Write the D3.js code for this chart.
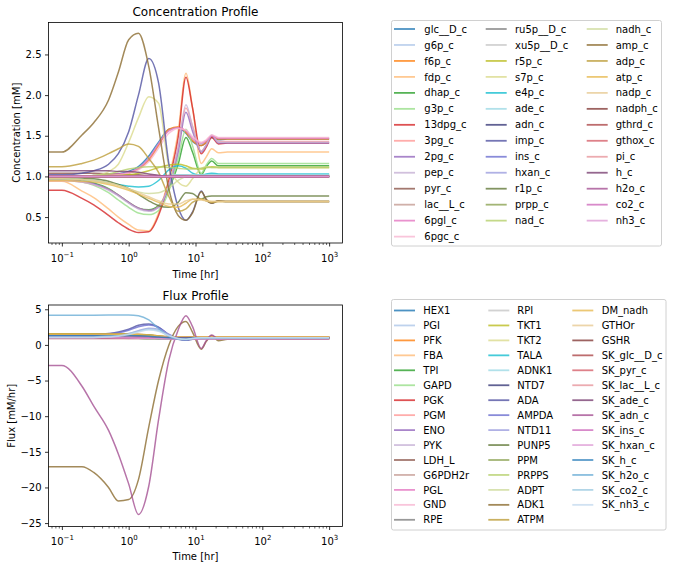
<!DOCTYPE html>
<html>
<head>
<meta charset="utf-8">
<script src="https://cdn.jsdelivr.net/npm/d3@7"></script>
<style>
  body { margin: 0; background: #fff; }
  text { font-family: "DejaVu Sans", sans-serif; }
</style>
</head>
<body>
<svg id="chart" width="673" height="568"></svg>
<script>
// shared time grid [hr]; t = 0 is clipped to the left edge like matplotlib does on a log axis
var T = [0, 0.1, 0.2, 0.3, 0.5, 0.7, 1, 1.4, 2, 2.8, 4, 5.5, 7.2, 9, 12.2, 14.5, 17.5, 22, 30, 1000];

var xTicks = [0.1, 1, 10, 100, 1000];
var concTicks = [0.5, 1.0, 1.5, 2.0, 2.5];
var fluxTicks = [-25, -20, -15, -10, -5, 0, 5];

var tab20 = ["#1f77b4","#aec7e8","#ff7f0e","#ffbb78","#2ca02c","#98df8a","#d62728","#ff9896","#9467bd","#c5b0d5",
             "#8c564b","#c49c94","#e377c2","#f7b6d2","#7f7f7f","#c7c7c7","#bcbd22","#dbdb8d","#17becf","#9edae5"];
var tab20b = ["#393b79","#5254a3","#6b6ecf","#9c9ede","#637939","#8ca252","#b5cf6b","#cedb9c","#8c6d31","#bd9e39",
              "#e7ba52","#e7cb94","#843c39","#ad494a","#d6616b","#e7969c","#7b4173","#a55194","#ce6dbd","#de9ed6"];
var tab20c = ["#3182bd","#6baed6","#9ecae1","#c6dbef"];

var concNames = ["glc__D_c","g6p_c","f6p_c","fdp_c","dhap_c","g3p_c","13dpg_c","3pg_c","2pg_c","pep_c",
  "pyr_c","lac__L_c","6pgl_c","6pgc_c","ru5p__D_c","xu5p__D_c","r5p_c","s7p_c","e4p_c","ade_c",
  "adn_c","imp_c","ins_c","hxan_c","r1p_c","prpp_c","nad_c","nadh_c","amp_c","adp_c",
  "atp_c","nadp_c","nadph_c","gthrd_c","gthox_c","pi_c","h_c","h2o_c","co2_c","nh3_c"];

var concValues = [
  [1.00,1.00,1.00,1.01,1.02,1.03,1.06,1.12,1.25,1.42,1.58,1.60,1.53,1.43,1.38,1.42,1.48,1.45,1.46,1.46],
  [1.00,1.00,1.00,1.00,1.01,1.02,1.05,1.10,1.22,1.40,1.57,1.60,1.55,1.45,1.40,1.43,1.49,1.47,1.47,1.47],
  [0.99,0.99,0.99,1.00,1.01,1.02,1.04,1.09,1.20,1.38,1.58,1.61,1.54,1.44,1.38,1.42,1.49,1.46,1.46,1.46],
  [0.94,0.94,0.82,0.74,0.60,0.50,0.41,0.34,0.33,0.55,0.98,1.55,2.27,1.85,1.16,1.24,1.34,1.29,1.30,1.30],
  [0.97,0.97,0.95,0.92,0.85,0.77,0.68,0.61,0.59,0.64,0.85,1.15,1.48,1.30,1.02,1.12,1.19,1.13,1.13,1.13],
  [0.96,0.96,0.93,0.89,0.80,0.71,0.62,0.55,0.53,0.58,0.82,1.22,1.58,1.38,1.04,1.14,1.22,1.16,1.16,1.16],
  [0.83,0.83,0.73,0.65,0.52,0.43,0.35,0.31,0.32,0.52,0.95,1.48,2.22,1.85,1.28,1.36,1.48,1.40,1.41,1.41],
  [0.95,0.95,0.93,0.90,0.84,0.77,0.68,0.61,0.58,0.63,0.90,1.35,1.84,1.62,1.31,1.39,1.50,1.43,1.43,1.43],
  [0.96,0.96,0.94,0.91,0.84,0.77,0.68,0.61,0.58,0.62,0.88,1.30,1.79,1.56,1.30,1.38,1.50,1.41,1.41,1.41],
  [0.95,0.95,0.93,0.90,0.83,0.76,0.67,0.60,0.57,0.62,0.90,1.36,1.88,1.62,1.31,1.39,1.51,1.42,1.42,1.42],
  [1.04,1.04,1.04,1.04,1.03,1.03,1.02,1.02,1.01,1.01,1.00,1.00,1.00,1.00,1.00,1.00,1.00,1.00,1.00,1.00],
  [0.99,0.99,0.99,0.99,0.99,0.99,0.99,0.99,1.00,1.00,1.00,1.00,1.00,1.00,1.00,1.00,1.00,1.00,1.00,1.00],
  [1.00,1.00,1.00,1.01,1.02,1.03,1.05,1.10,1.22,1.40,1.56,1.60,1.56,1.47,1.41,1.44,1.50,1.47,1.47,1.47],
  [1.00,1.00,1.00,1.00,1.01,1.02,1.04,1.08,1.18,1.35,1.53,1.59,1.57,1.49,1.42,1.45,1.51,1.48,1.48,1.48],
  [0.99,0.99,0.99,0.99,0.99,0.99,0.99,0.99,0.99,1.00,1.01,1.02,1.02,1.01,1.01,1.01,1.01,1.01,1.01,1.01],
  [0.99,0.99,0.99,0.99,0.99,0.99,0.99,0.99,0.99,1.00,1.01,1.02,1.02,1.01,1.01,1.01,1.01,1.01,1.01,1.01],
  [1.00,1.00,1.00,1.00,1.01,1.01,1.02,1.04,1.07,1.11,1.14,1.15,1.13,1.10,1.09,1.11,1.12,1.11,1.11,1.11],
  [1.00,1.00,1.00,1.01,1.06,1.15,1.42,1.72,1.98,1.90,1.12,0.93,0.88,0.97,1.10,1.12,1.11,1.11,1.11,1.11],
  [0.97,0.97,0.96,0.95,0.92,0.90,0.88,0.87,0.88,0.95,1.08,1.13,1.10,1.04,1.01,1.03,1.04,1.03,1.03,1.03],
  [0.99,0.99,0.99,0.99,0.99,0.99,0.99,0.99,1.00,1.00,1.01,1.02,1.02,1.02,1.02,1.02,1.02,1.02,1.02,1.02],
  [1.00,1.00,1.00,1.00,1.00,1.00,1.00,1.00,1.00,1.00,1.00,1.00,1.00,1.00,1.00,1.00,1.00,1.00,1.00,1.00],
  [1.02,1.02,1.04,1.07,1.15,1.28,1.55,2.00,2.45,2.15,1.15,0.62,0.46,0.56,0.82,0.71,0.67,0.70,0.69,0.69],
  [1.00,1.00,1.00,1.00,1.00,1.00,1.00,1.00,1.00,1.00,1.00,1.00,1.00,1.00,1.00,1.00,1.00,1.00,1.00,1.00],
  [1.00,1.00,1.00,1.00,1.00,1.00,1.00,1.00,1.00,1.00,1.00,1.00,1.00,1.00,1.00,1.00,1.00,1.00,1.00,1.00],
  [0.99,0.99,0.98,0.97,0.94,0.90,0.85,0.78,0.70,0.64,0.62,0.68,0.80,0.79,0.72,0.75,0.76,0.76,0.76,0.76],
  [0.99,0.99,0.99,0.99,0.99,0.99,0.99,0.99,0.99,0.99,1.00,1.00,1.00,1.00,1.00,1.00,1.00,1.00,1.00,1.00],
  [1.00,1.00,1.00,1.01,1.03,1.06,1.09,1.11,1.12,1.12,1.11,1.10,1.09,1.09,1.10,1.11,1.11,1.11,1.11,1.11],
  [0.97,0.97,0.96,0.95,0.92,0.89,0.85,0.81,0.79,0.80,0.86,0.95,1.00,1.01,1.00,1.00,1.00,1.00,1.00,1.00],
  [1.30,1.30,1.51,1.66,1.94,2.28,2.68,2.76,2.35,1.60,0.84,0.52,0.46,0.55,0.81,0.72,0.67,0.70,0.69,0.69],
  [1.12,1.12,1.16,1.20,1.28,1.34,1.40,1.37,1.22,1.05,0.75,0.57,0.60,0.68,0.72,0.70,0.68,0.69,0.69,0.69],
  [0.95,0.95,0.94,0.93,0.90,0.87,0.83,0.78,0.73,0.68,0.63,0.62,0.67,0.72,0.72,0.70,0.69,0.69,0.69,0.69],
  [0.97,0.97,0.96,0.95,0.92,0.89,0.85,0.80,0.75,0.70,0.66,0.66,0.70,0.72,0.71,0.70,0.69,0.69,0.69,0.69],
  [1.00,1.00,1.00,1.00,1.00,1.00,1.00,1.00,1.00,1.00,1.00,1.00,1.00,1.00,1.00,1.00,1.00,1.00,1.00,1.00],
  [1.00,1.00,1.00,1.00,1.00,1.00,1.00,1.00,1.00,1.00,1.00,1.00,1.00,1.00,1.00,1.00,1.00,1.00,1.00,1.00],
  [1.00,1.00,1.00,1.00,1.00,1.00,1.00,1.00,1.00,1.00,1.00,1.00,1.00,1.00,1.00,1.00,1.00,1.00,1.00,1.00],
  [1.00,1.00,1.00,1.00,1.00,1.00,1.00,1.00,1.00,1.00,1.00,1.00,1.00,1.00,1.00,1.00,1.00,1.00,1.00,1.00],
  [1.07,1.07,1.07,1.07,1.07,1.06,1.06,1.05,1.03,1.01,1.00,1.00,1.00,1.00,1.00,1.00,1.00,1.00,1.00,1.00],
  [1.00,1.00,1.00,1.00,1.00,1.00,1.00,1.00,1.00,1.00,1.00,1.00,1.00,1.00,1.00,1.00,1.00,1.00,1.00,1.00],
  [1.00,1.00,1.00,1.00,1.00,1.00,1.00,1.00,1.00,1.00,1.00,1.00,1.00,1.00,1.00,1.00,1.00,1.00,1.00,1.00],
  [1.00,1.00,1.00,1.00,1.00,1.00,1.00,1.00,1.00,1.00,1.00,1.00,1.00,1.00,1.00,1.00,1.00,1.00,1.00,1.00]
];

var fluxNames = ["HEX1","PGI","PFK","FBA","TPI","GAPD","PGK","PGM","ENO","PYK",
  "LDH_L","G6PDH2r","PGL","GND","RPE","RPI","TKT1","TKT2","TALA","ADNK1",
  "NTD7","ADA","AMPDA","NTD11","PUNP5","PPM","PRPPS","ADPT","ADK1","ATPM",
  "DM_nadh","GTHOr","GSHR","SK_glc__D_c","SK_pyr_c","SK_lac__L_c","SK_ade_c","SK_adn_c","SK_ins_c","SK_hxan_c",
  "SK_h_c","SK_h2o_c","SK_co2_c","SK_nh3_c"];

var fluxValues = [
  [1.45,1.45,1.45,1.45,1.45,1.44,1.42,1.38,1.30,1.18,1.05,1.00,1.00,1.02,1.05,1.04,1.03,1.03,1.03,1.03],
  [1.40,1.40,1.40,1.40,1.40,1.39,1.37,1.33,1.25,1.13,1.02,0.98,0.98,1.00,1.03,1.02,1.02,1.02,1.02,1.02],
  [1.55,1.55,1.55,1.55,1.55,1.54,1.52,1.47,1.38,1.25,1.10,1.05,1.05,1.07,1.10,1.09,1.09,1.09,1.09,1.09],
  [1.55,1.55,1.55,1.55,1.54,1.53,1.51,1.46,1.37,1.24,1.10,1.05,1.05,1.07,1.10,1.09,1.09,1.09,1.09,1.09],
  [1.50,1.50,1.50,1.50,1.50,1.49,1.47,1.43,1.34,1.22,1.08,1.03,1.03,1.05,1.08,1.07,1.07,1.07,1.07,1.07],
  [1.35,1.35,1.35,1.35,1.35,1.34,1.33,1.30,1.24,1.15,1.06,1.02,1.03,1.06,1.10,1.09,1.09,1.09,1.09,1.09],
  [1.35,1.35,1.35,1.35,1.35,1.34,1.33,1.30,1.24,1.15,1.06,1.02,1.03,1.06,1.10,1.09,1.09,1.09,1.09,1.09],
  [1.30,1.30,1.30,1.30,1.30,1.29,1.28,1.26,1.21,1.13,1.05,1.02,1.03,1.06,1.10,1.09,1.09,1.09,1.09,1.09],
  [1.30,1.30,1.30,1.30,1.30,1.29,1.28,1.26,1.21,1.13,1.05,1.02,1.03,1.06,1.10,1.09,1.09,1.09,1.09,1.09],
  [1.28,1.28,1.28,1.28,1.28,1.27,1.26,1.24,1.19,1.12,1.05,1.02,1.03,1.06,1.10,1.09,1.09,1.09,1.09,1.09],
  [1.25,1.25,1.25,1.25,1.25,1.24,1.23,1.21,1.17,1.11,1.05,1.02,1.02,1.04,1.06,1.06,1.06,1.06,1.06,1.06],
  [1.00,1.00,1.00,1.00,1.00,0.99,0.98,0.97,0.95,0.93,0.92,0.92,0.93,0.94,0.95,0.95,0.95,0.95,0.95,0.95],
  [1.00,1.00,1.00,1.00,1.00,0.99,0.98,0.97,0.95,0.93,0.92,0.92,0.93,0.94,0.95,0.95,0.95,0.95,0.95,0.95],
  [1.00,1.00,1.00,1.00,1.00,0.99,0.98,0.97,0.95,0.93,0.92,0.92,0.93,0.94,0.95,0.95,0.95,0.95,0.95,0.95],
  [0.95,0.95,0.95,0.95,0.95,0.94,0.93,0.92,0.90,0.88,0.87,0.87,0.87,0.88,0.88,0.88,0.88,0.88,0.88,0.88],
  [0.90,0.90,0.90,0.90,0.90,0.89,0.88,0.87,0.86,0.85,0.84,0.84,0.84,0.85,0.85,0.85,0.85,0.85,0.85,0.85],
  [0.95,0.95,0.95,0.95,0.95,0.94,0.93,0.92,0.90,0.88,0.87,0.87,0.87,0.88,0.88,0.88,0.88,0.88,0.88,0.88],
  [0.95,0.95,0.95,0.95,0.95,0.94,0.93,0.92,0.90,0.88,0.87,0.87,0.87,0.88,0.88,0.88,0.88,0.88,0.88,0.88],
  [0.95,0.95,0.95,0.95,0.95,0.94,0.93,0.92,0.90,0.88,0.87,0.87,0.87,0.88,0.88,0.88,0.88,0.88,0.88,0.88],
  [1.00,1.00,1.00,1.00,1.00,1.00,1.00,1.00,1.00,1.00,1.00,1.00,1.00,1.00,1.00,1.00,1.00,1.00,1.00,1.00],
  [1.05,1.05,1.06,1.07,1.10,1.13,1.18,1.22,1.24,1.18,1.05,0.95,0.92,0.95,1.00,1.00,1.00,1.00,1.00,1.00],
  [1.35,1.35,1.40,1.45,1.60,1.80,2.20,2.75,2.95,2.50,1.40,0.80,0.65,0.80,1.00,1.02,1.00,1.00,1.00,1.00],
  [1.30,1.30,1.35,1.40,1.55,1.70,2.05,2.55,2.80,2.45,1.45,0.85,0.70,0.85,1.00,1.00,1.00,1.00,1.00,1.00],
  [1.10,1.10,1.12,1.15,1.22,1.35,1.60,2.00,2.35,2.20,1.50,0.90,0.75,0.85,1.00,1.00,1.00,1.00,1.00,1.00],
  [1.00,1.00,1.00,1.00,1.00,1.00,1.00,1.00,1.00,1.00,0.99,0.98,0.98,0.99,1.00,1.00,1.00,1.00,1.00,1.00],
  [1.00,1.00,1.00,1.00,1.00,1.00,1.00,0.99,0.99,0.98,0.97,0.96,0.96,0.96,0.96,0.96,0.96,0.96,0.96,0.96],
  [0.98,0.98,0.98,0.98,0.98,0.98,0.98,0.97,0.97,0.96,0.95,0.95,0.95,0.95,0.95,0.95,0.95,0.95,0.95,0.95],
  [0.98,0.98,0.98,0.98,0.98,0.98,0.98,0.98,0.98,0.98,0.98,0.98,0.98,0.98,0.98,0.98,0.98,0.98,0.98,0.98],
  [-17.1,-17.1,-17.1,-17.9,-20.0,-21.9,-21.7,-18.9,-11.5,-5.0,0.0,2.6,3.3,1.8,-0.6,0.5,1.3,0.6,0.8,0.8],
  [1.55,1.55,1.55,1.55,1.55,1.54,1.52,1.48,1.40,1.28,1.15,1.10,1.10,1.12,1.15,1.15,1.15,1.15,1.15,1.15],
  [1.50,1.50,1.50,1.50,1.50,1.49,1.47,1.43,1.36,1.25,1.14,1.10,1.10,1.12,1.15,1.15,1.15,1.15,1.15,1.15],
  [1.00,1.00,1.00,1.00,1.00,1.00,0.99,0.99,0.98,0.97,0.96,0.95,0.95,0.95,0.95,0.95,0.95,0.95,0.95,0.95],
  [1.00,1.00,1.00,1.00,1.00,1.00,0.99,0.99,0.98,0.97,0.96,0.95,0.95,0.95,0.95,0.95,0.95,0.95,0.95,0.95],
  [1.00,1.00,1.00,1.00,1.00,1.00,1.00,1.00,1.00,1.00,1.00,1.00,1.00,1.00,1.00,1.00,1.00,1.00,1.00,1.00],
  [0.90,0.90,0.90,0.90,0.90,0.90,0.90,0.90,0.91,0.91,0.92,0.92,0.92,0.92,0.92,0.92,0.92,0.92,0.92,0.92],
  [1.15,1.15,1.15,1.15,1.15,1.14,1.13,1.12,1.10,1.08,1.06,1.05,1.05,1.05,1.05,1.05,1.05,1.05,1.05,1.05],
  [1.00,1.00,1.00,1.00,1.00,1.00,1.00,1.00,1.00,1.00,1.00,1.00,1.00,1.00,1.00,1.00,1.00,1.00,1.00,1.00],
  [-2.9,-2.9,-5.8,-8.6,-12.0,-15.3,-19.5,-23.8,-19.8,-10.5,-2.1,2.1,4.1,2.6,-0.5,0.6,1.4,0.8,1.0,1.0],
  [1.10,1.10,1.10,1.09,1.08,1.07,1.05,1.02,0.98,0.92,0.85,0.80,0.78,0.80,0.82,0.82,0.82,0.82,0.82,0.82],
  [1.00,1.00,1.00,1.00,0.99,0.98,0.97,0.95,0.92,0.89,0.86,0.85,0.85,0.85,0.85,0.85,0.85,0.85,0.85,0.85],
  [1.30,1.30,1.30,1.30,1.30,1.30,1.29,1.27,1.20,1.10,1.00,0.95,0.95,0.98,1.00,1.00,1.00,1.00,1.00,1.00],
  [4.15,4.15,4.15,4.16,4.18,4.20,4.20,4.10,3.50,2.30,1.20,0.80,0.75,0.90,1.00,1.02,1.00,1.00,1.00,1.00],
  [1.10,1.10,1.10,1.12,1.20,1.30,1.55,1.90,2.20,2.00,1.30,0.85,0.75,0.90,1.00,1.00,1.00,1.00,1.00,1.00],
  [1.00,1.00,1.00,1.02,1.10,1.20,1.45,1.80,2.10,1.90,1.30,0.90,0.80,0.90,1.00,1.00,1.00,1.00,1.00,1.00]
];

var concColors = tab20.concat(tab20b);
var fluxColors = tab20.concat(tab20b, tab20c);

var svg = d3.select("#chart");
var left = 48.5, right = 342.5;

var panels = [
  { id: "conc", title: "Concentration Profile", ylabel: "Concentration [mM]",
    names: concNames, values: concValues, colors: concColors,
    yDomain: [0.181, 2.893], yTicks: concTicks, yFmt: d3.format(".1f"),
    top: 22.5, bottom: 243, titleY: 16.3, xlabelY: 277.5, ylabelX: 19.5,
    legend: { x: 391.5, y: 20.5, w: 270, h: 225.5, row0: 29, dy: 15.97,
              hx: [394, 485.7, 586.7], tx: [424.3, 515, 615.7] } },
  { id: "flux", title: "Flux Profile", ylabel: "Flux [mM/hr]",
    names: fluxNames, values: fluxValues, colors: fluxColors,
    yDomain: [-25.48, 5.6], yTicks: fluxTicks, yFmt: d3.format("d"),
    top: 305, bottom: 526.5, titleY: 299.8, xlabelY: 560, ylabelX: 15,
    legend: { x: 391.5, y: 299.5, w: 274.5, h: 230.5, row0: 310.5, dy: 14.95,
              hx: [394, 488.3, 572.3], tx: [423.3, 517.3, 601.7] } }
];

var supDigits = function(d) { return String(Math.round(Math.log10(d))).replace("-", "\u2212"); };

// matplotlib fills legend columns so that the first (n % ncol) columns get one extra entry
function legendSlots(n, ncol) {
  var base = Math.floor(n / ncol), extra = n % ncol, slots = [];
  for (var c = 0; c < ncol; c++) {
    var size = base + (c < extra ? 1 : 0);
    for (var r = 0; r < size; r++) slots.push({ col: c, row: r });
  }
  return slots;
}

panels.forEach(function(p) {
  var x = d3.scaleLog().domain([Math.pow(10, -1.2), Math.pow(10, 3.2)]).range([left, right]);
  var y = d3.scaleLinear().domain(p.yDomain).range([p.bottom, p.top]);
  var g = svg.append("g");

  g.append("clipPath").attr("id", "clip-" + p.id)
    .append("rect").attr("x", left).attr("y", p.top)
    .attr("width", right - left).attr("height", p.bottom - p.top);

  var line = d3.line()
    .x(function(d, i) { return T[i] > 0 ? x(T[i]) : x.range()[0] - 10; })
    .y(function(d) { return y(d); })
    .curve(d3.curveMonotoneX);

  g.append("g").attr("clip-path", "url(#clip-" + p.id + ")")
    .selectAll("path").data(p.values).enter().append("path")
    .attr("d", function(d) { return line(d); })
    .attr("fill", "none")
    .attr("stroke", function(d, i) { return p.colors[i]; })
    .attr("stroke-opacity", 0.8)
    .attr("stroke-width", 1.5);

  // x axis: major decades + minor ticks
  var minor = x.ticks().filter(function(v) { return xTicks.indexOf(v) < 0; });
  var xm = g.append("g").attr("transform", "translate(0," + p.bottom + ")")
    .call(d3.axisBottom(x).tickValues(minor).tickSize(2).tickSizeOuter(0).tickFormat(""));
  xm.select(".domain").remove();
  xm.selectAll(".tick line").attr("stroke-width", 0.6);

  var xa = g.append("g").attr("transform", "translate(0," + p.bottom + ")")
    .call(d3.axisBottom(x).tickValues(xTicks).tickSize(3.5).tickSizeOuter(0).tickFormat(""));
  xa.select(".domain").remove();
  xa.selectAll(".tick line").attr("stroke-width", 0.8);
  xa.selectAll(".tick text").each(function(d) {
    var t = d3.select(this);
    t.attr("y", 18.5).attr("dy", null).attr("fill", "#000")
      .style("font-family", "DejaVu Sans").style("font-size", "10px").text("10");
    t.append("tspan").attr("dy", -4.6).style("font-size", "7px").text(supDigits(d));
  });

  var ya = g.append("g").attr("transform", "translate(" + left + ",0)")
    .call(d3.axisLeft(y).tickValues(p.yTicks).tickSize(3.5).tickPadding(3.5).tickFormat(p.yFmt));
  ya.select(".domain").remove();
  ya.selectAll(".tick line").attr("stroke-width", 0.8);
  ya.selectAll(".tick text").attr("fill", "#000")
    .style("font-family", "DejaVu Sans").style("font-size", "10px");

  // spines
  g.append("rect").attr("x", left).attr("y", p.top)
    .attr("width", right - left).attr("height", p.bottom - p.top)
    .attr("fill", "none").attr("stroke", "#000").attr("stroke-width", 0.8);

  g.append("text").attr("x", (left + right) / 2).attr("y", p.titleY)
    .attr("text-anchor", "middle").style("font-size", "12px").text(p.title);
  g.append("text").attr("x", (left + right) / 2).attr("y", p.xlabelY)
    .attr("text-anchor", "middle").style("font-size", "10px").text("Time [hr]");
  g.append("text")
    .attr("transform", "translate(" + p.ylabelX + "," + ((p.top + p.bottom) / 2) + ") rotate(-90)")
    .attr("text-anchor", "middle").style("font-size", "10px").text(p.ylabel);

  // legend
  var L = p.legend;
  var slots = legendSlots(p.names.length, 3);
  var lg = g.append("g");
  lg.append("rect").attr("x", L.x).attr("y", L.y).attr("width", L.w).attr("height", L.h)
    .attr("rx", 2).attr("fill", "#fff").attr("stroke", "#d0d0d0").attr("stroke-width", 1);
  var item = lg.selectAll("g.item").data(p.names).enter().append("g")
    .attr("class", "item")
    .attr("transform", function(d, i) { return "translate(0," + (L.row0 + slots[i].row * L.dy) + ")"; });
  item.append("line")
    .attr("x1", function(d, i) { return L.hx[slots[i].col]; })
    .attr("x2", function(d, i) { return L.hx[slots[i].col] + 21; })
    .attr("stroke", function(d, i) { return p.colors[i]; })
    .attr("stroke-opacity", 0.8)
    .attr("stroke-width", 1.8);
  item.append("text")
    .attr("x", function(d, i) { return L.tx[slots[i].col]; })
    .attr("y", 3.6)
    .style("font-size", "10px")
    .text(function(d) { return d; });
});
</script>
</body>
</html>
